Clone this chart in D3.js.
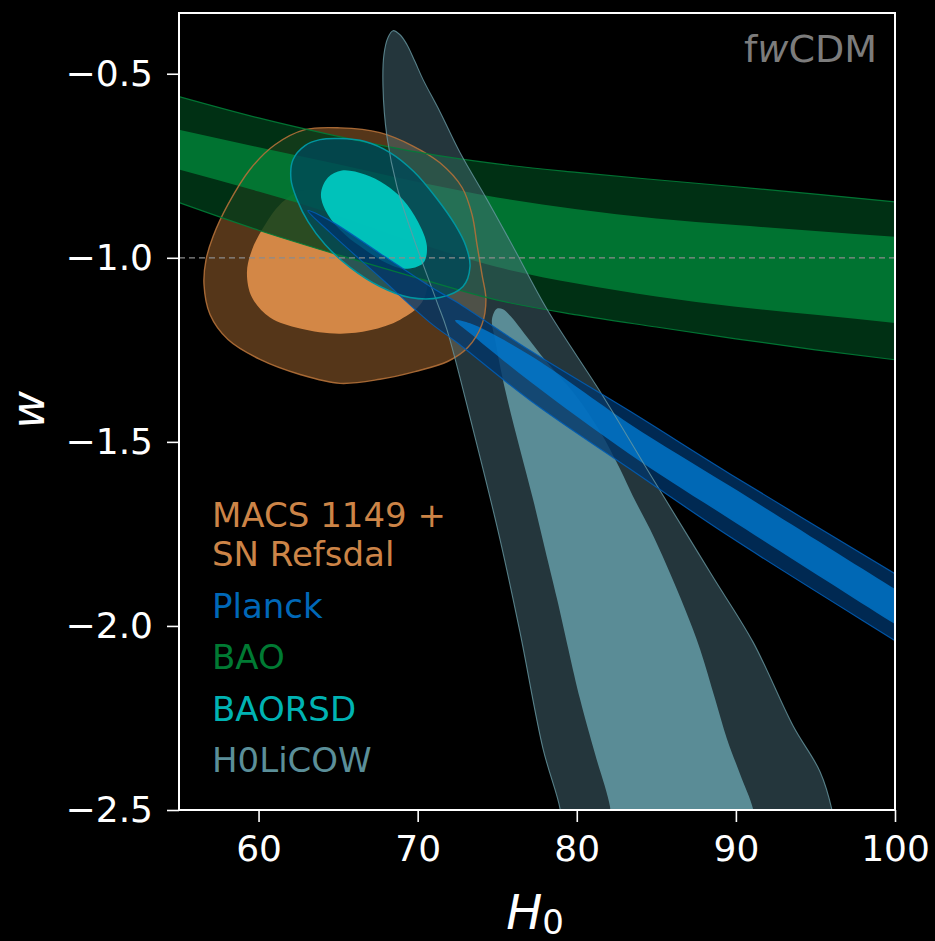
<!DOCTYPE html>
<html>
<head>
<meta charset="utf-8">
<script src="https://cdn.jsdelivr.net/npm/d3@7"></script>
<style>
  html, body { margin: 0; padding: 0; background: #000; }
  svg { display: block; }
  text { font-family: "DejaVu Sans", sans-serif; }
</style>
</head>
<body>
<svg id="chart" width="935" height="941"></svg>
<script>
// Axis ranges and ticks
const h0Domain = [55, 100];
const wDomain = [-2.5, -0.335];
const h0Ticks = [60, 70, 80, 90, 100];
const wTicks = [-2.5, -2.0, -1.5, -1.0, -0.5];

// BAO band: edges sampled on a common H0 grid
const baoH0 = [55, 60, 65, 70, 75, 80, 85, 90, 95, 100];
const baoOuterUpper = [-0.562, -0.620, -0.670, -0.713, -0.745, -0.768, -0.788, -0.807, -0.827, -0.848];
const baoInnerUpper = [-0.652, -0.700, -0.746, -0.794, -0.836, -0.868, -0.893, -0.911, -0.927, -0.943];
const baoInnerLower = [-0.760, -0.820, -0.885, -0.960, -1.025, -1.070, -1.105, -1.133, -1.155, -1.177];
const baoOuterLower = [-0.850, -0.925, -0.992, -1.055, -1.115, -1.155, -1.188, -1.220, -1.250, -1.277];

// MACS 1149 + SN Refsdal contours, [H0, w]
const macsOuter = [[62.92,-0.652],[65.12,-0.647],[67.63,-0.660],[69.64,-0.695],[71.40,-0.742],[72.79,-0.809],[73.42,-0.883],[73.73,-0.964],[74.04,-1.045],[74.29,-1.113],[74.04,-1.181],[73.16,-1.243],[71.91,-1.281],[69.83,-1.309],[67.63,-1.330],[65.12,-1.341],[62.61,-1.317],[60.09,-1.276],[58.08,-1.222],[56.95,-1.154],[56.57,-1.072],[56.70,-1.005],[57.14,-0.942],[58.08,-0.855],[59.46,-0.760],[61.03,-0.693]];
const macsInner = [[62.61,-0.820],[65.12,-0.828],[67.63,-0.883],[69.52,-0.970],[70.60,-1.055],[70.27,-1.121],[68.90,-1.168],[67.00,-1.197],[65.06,-1.206],[62.61,-1.192],[60.72,-1.162],[59.59,-1.108],[59.27,-1.040],[59.59,-0.978],[60.41,-0.910],[61.35,-0.855]];

// BAORSD contours
const rsdOuter = [[65.06,-0.676],[66.69,-0.684],[68.26,-0.714],[69.77,-0.766],[71.15,-0.836],[72.35,-0.910],[73.04,-0.969],[73.29,-1.024],[72.85,-1.078],[71.40,-1.108],[69.52,-1.108],[67.63,-1.078],[65.75,-1.026],[64.18,-0.964],[63.11,-0.902],[62.42,-0.842],[62.04,-0.788],[62.17,-0.733],[62.92,-0.695],[63.86,-0.679]];
const rsdInner = [[65.24,-0.763],[66.69,-0.774],[67.95,-0.801],[69.08,-0.842],[70.02,-0.902],[70.58,-0.968],[70.35,-1.014],[69.20,-1.030],[67.95,-1.012],[66.69,-0.978],[65.43,-0.937],[64.36,-0.883],[63.92,-0.828],[64.36,-0.782]];

// H0LiCOW contours
const licowOuter = [[68.45,-0.383],[68.89,-0.394],[69.33,-0.421],[69.83,-0.467],[70.34,-0.516],[71.40,-0.603],[72.66,-0.714],[74.36,-0.842],[75.99,-0.969],[78.13,-1.140],[81.65,-1.376],[84.79,-1.601],[86.90,-1.750],[88.60,-1.870],[91.08,-2.044],[93.60,-2.272],[95.29,-2.396],[96.05,-2.502],[96.24,-2.560],[79.07,-2.560],[78.95,-2.497],[77.88,-2.334],[76.43,-2.017],[75.17,-1.764],[73.48,-1.466],[71.84,-1.195],[71.22,-1.121],[69.71,-0.942],[68.70,-0.807],[68.07,-0.671],[67.82,-0.535],[67.88,-0.448],[68.13,-0.402]];
const licowInner = [[74.99,-1.138],[75.36,-1.140],[75.80,-1.157],[76.75,-1.208],[78.13,-1.284],[79.89,-1.371],[81.46,-1.471],[82.72,-1.574],[83.53,-1.648],[84.60,-1.737],[85.67,-1.838],[86.80,-1.954],[87.75,-2.063],[88.69,-2.198],[89.44,-2.307],[90.26,-2.402],[91.08,-2.497],[91.26,-2.560],[82.21,-2.560],[82.09,-2.491],[81.15,-2.348],[80.20,-2.198],[78.76,-1.927],[78.00,-1.791],[77.25,-1.656],[76.43,-1.520],[75.49,-1.357],[74.86,-1.222],[74.67,-1.167]];

// Planck contours
const planckOuter = [[63.10,-0.872],[64.49,-0.899],[67.63,-0.988],[70.78,-1.078],[72.47,-1.121],[77.06,-1.252],[83.35,-1.417],[89.63,-1.587],[100,-1.858],[102,-1.910],[102,-2.094],[100,-2.040],[89.63,-1.758],[83.35,-1.574],[77.06,-1.387],[72.47,-1.230],[70.78,-1.176],[67.63,-1.053],[64.49,-0.931]];
const planckInner = [[72.35,-1.170],[73.29,-1.178],[77.06,-1.265],[83.35,-1.452],[89.63,-1.620],[100,-1.900],[102,-1.954],[102,-2.049],[100,-1.995],[89.63,-1.710],[83.35,-1.534],[77.06,-1.336],[73.29,-1.205]];

// Legend entries
const legendLabels = [["MACS 1149 +", "SN Refsdal"], ["Planck"], ["BAO"], ["BAORSD"], ["H0LiCOW"]];
const legendColors = ["#cc8447", "#0068b8", "#007a33", "#00b3b3", "#5b8f99"];

const margin = { left: 179, top: 13, right: 40, bottom: 131 };
const width = 935 - margin.left - margin.right;
const height = 941 - margin.top - margin.bottom;

const svg = d3.select("#chart");
const g = svg.append("g").attr("transform", `translate(${margin.left},${margin.top})`);

const x = d3.scaleLinear().domain(h0Domain).range([0, width]);
const y = d3.scaleLinear().domain(wDomain).range([height, 0]);

g.append("clipPath").attr("id", "plot-clip")
  .append("rect").attr("width", width).attr("height", height);

const layers = g.append("g").attr("clip-path", "url(#plot-clip)");
const outlines = g.append("g").attr("clip-path", "url(#plot-clip)");

const blob = d3.line()
  .x(d => x(d[0])).y(d => y(d[1]))
  .curve(d3.curveCatmullRomClosed.alpha(0.5));

const bao = baoH0.map((h, i) => ({
  h, ou: baoOuterUpper[i], iu: baoInnerUpper[i], il: baoInnerLower[i], ol: baoOuterLower[i]
}));
const band = (lo, hi) => d3.area()
  .x(d => x(d.h)).y0(d => y(d[lo])).y1(d => y(d[hi]))
  .curve(d3.curveMonotoneX);
const edge = key => d3.line().x(d => x(d.h)).y(d => y(d[key])).curve(d3.curveMonotoneX);

// MACS 1149 + SN Refsdal
layers.append("path").attr("d", blob(macsOuter)).attr("fill", "rgba(170,108,50,0.5)");
layers.append("path").attr("d", blob(macsInner)).attr("fill", "rgba(222,142,74,0.92)");

// BAO
layers.append("path").attr("d", band("ol", "ou")(bao)).attr("fill", "rgba(0,60,25,0.8)");
layers.append("path").attr("d", band("il", "iu")(bao)).attr("fill", "rgba(0,132,56,0.8)");

// H0LiCOW
layers.append("path").attr("d", blob(licowOuter)).attr("fill", "rgba(72,108,120,0.5)");
layers.append("path").attr("d", blob(licowInner)).attr("fill", "rgba(104,162,172,0.8)");

// BAORSD
layers.append("path").attr("d", blob(rsdOuter)).attr("fill", "rgba(0,72,88,0.8)");
layers.append("path").attr("d", blob(rsdInner)).attr("fill", "rgba(0,204,195,0.92)");

// Planck
layers.append("path").attr("d", blob(planckOuter)).attr("fill", "rgba(0,53,105,0.78)");
layers.append("path").attr("d", blob(planckInner)).attr("fill", "rgba(0,125,215,0.75)");

// contour outlines
outlines.append("path").attr("d", blob(macsOuter)).attr("fill", "none")
  .attr("stroke", "rgba(178,112,56,0.9)").attr("stroke-width", 1.4);
outlines.append("path").attr("d", edge("ou")(bao)).attr("fill", "none")
  .attr("stroke", "rgba(0,125,55,0.9)").attr("stroke-width", 1.2);
outlines.append("path").attr("d", edge("ol")(bao)).attr("fill", "none")
  .attr("stroke", "rgba(0,125,55,0.9)").attr("stroke-width", 1.2);
outlines.append("path").attr("d", blob(licowOuter)).attr("fill", "none")
  .attr("stroke", "rgba(104,152,162,0.8)").attr("stroke-width", 1.1);
outlines.append("path").attr("d", blob(rsdOuter)).attr("fill", "none")
  .attr("stroke", "rgb(0,150,160)").attr("stroke-width", 1.5);
outlines.append("path").attr("d", blob(planckOuter)).attr("fill", "none")
  .attr("stroke", "rgba(0,92,178,0.9)").attr("stroke-width", 1.2);

// w = -1 reference line
g.append("line")
  .attr("x1", 0).attr("x2", width)
  .attr("y1", y(-1)).attr("y2", y(-1))
  .attr("stroke", "#8c8c8c").attr("stroke-width", 1.3)
  .attr("stroke-dasharray", "6,4");

// axes
const fmt = d3.format(".1f");
const yAxis = g.append("g")
  .call(d3.axisLeft(y).tickValues(wTicks).tickFormat(fmt).tickSize(12).tickPadding(14));
const xAxis = g.append("g").attr("transform", `translate(0,${height})`)
  .call(d3.axisBottom(x).tickValues(h0Ticks).tickFormat(d3.format("d")).tickSize(12).tickPadding(13));
[xAxis, yAxis].forEach(ax => {
  ax.select(".domain").remove();
  ax.selectAll(".tick line").attr("stroke", "#fff").attr("stroke-width", 1.6);
  ax.selectAll(".tick text").attr("fill", "#fff").attr("font-size", 36)
    .style("font-family", "'DejaVu Sans', sans-serif");
});

// frame
g.append("rect").attr("width", width).attr("height", height)
  .attr("fill", "none").attr("stroke", "#fff").attr("stroke-width", 2);

// axis titles
const xl = svg.append("text")
  .attr("x", margin.left + width / 2 - 2).attr("y", 929)
  .attr("text-anchor", "middle").attr("fill", "#fff").attr("font-size", 48);
xl.append("tspan").attr("font-style", "italic").text("H");
xl.append("tspan").attr("font-size", 34).attr("dy", 5).text("0");

svg.append("text")
  .attr("transform", "translate(44,410) rotate(-90)")
  .attr("text-anchor", "middle").attr("fill", "#fff")
  .attr("font-size", 46).attr("font-style", "italic").text("w");

// model annotation
const ann = g.append("text")
  .attr("x", width - 18).attr("y", 49)
  .attr("text-anchor", "end").attr("fill", "#7c7c7c").attr("font-size", 38);
ann.append("tspan").text("f");
ann.append("tspan").attr("font-style", "italic").text("w");
ann.append("tspan").text("CDM");

// legend
let ly = 527 - margin.top;
legendLabels.forEach((lines, i) => {
  lines.forEach((line, j) => {
    g.append("text")
      .attr("x", 33).attr("y", ly)
      .attr("fill", legendColors[i]).attr("font-size", 34)
      .text(line);
    if (j < lines.length - 1) ly += 39;
  });
  ly += 51.5;
});
</script>
</body>
</html>
